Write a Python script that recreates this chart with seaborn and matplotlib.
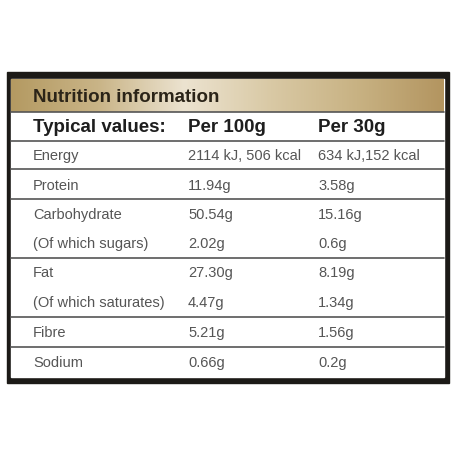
import numpy as np
import matplotlib
matplotlib.use("Agg")
import matplotlib.pyplot as plt
import seaborn as sns
from matplotlib.colors import LinearSegmentedColormap

sns.set_theme(style="white")
plt.rcParams['font.family'] = ['Liberation Sans Narrow', 'Liberation Sans', 'DejaVu Sans']

title = "Nutrition information"
headers = ["Typical values:", "Per 100g", "Per 30g"]
nutrients = ["Energy", "Protein", "Carbohydrate", "(Of which sugars)", "Fat",
             "(Of which saturates)", "Fibre", "Sodium"]
per_100g = ["2114 kJ, 506 kcal", "11.94g", "50.54g", "2.02g", "27.30g", "4.47g", "5.21g", "0.66g"]
per_30g = ["634 kJ,152 kcal", "3.58g", "15.16g", "0.6g", "8.19g", "1.34g", "1.56g", "0.2g"]

row_y = [156, 186, 215, 244, 273, 303, 333, 363]
lines_y = [113, 142, 170, 200, 259, 318, 348]
col_x = [33, 188, 318]

fig = plt.figure(figsize=(4.6, 4.6), dpi=100)
ax = fig.add_axes([0, 0, 1, 1])
ax.set_xlim(0, 460)
ax.set_ylim(460, 0)
ax.axis("off")

# outer dark frame and white body
ax.add_patch(plt.Rectangle((7, 73), 442, 311, color="#1c1a17", zorder=1))
ax.add_patch(plt.Rectangle((11, 80), 433, 298, color="white", zorder=2))

# gold gradient header
gold = LinearSegmentedColormap.from_list(
    "gold", ["#b49a62", "#c9b487", "#ece3d0", "#d9c9a5", "#c8b283", "#b39560"])
grad = np.linspace(0, 1, 256).reshape(1, -1)
ax.imshow(grad, cmap=gold, extent=(11, 444, 113, 80), aspect="auto", zorder=3)
ax.text(col_x[0], 98, title, fontsize=13.5, fontweight="bold", color="#2b2418",
        va="center", zorder=4)

for x, h in zip(col_x, headers):
    ax.text(x, 128, h, fontsize=13.5, fontweight="bold", color="#1e1e1e", va="center", zorder=4)

for y in lines_y:
    ax.plot([11, 444], [y, y], color="#555555", lw=1.2, zorder=4)

for y, n, a, b in zip(row_y, nutrients, per_100g, per_30g):
    for x, t in zip(col_x, [n, a, b]):
        ax.text(x, y, t, fontsize=10.5, color="#555555", va="center", zorder=4)

fig.savefig("out.png", dpi=100, facecolor="white")
